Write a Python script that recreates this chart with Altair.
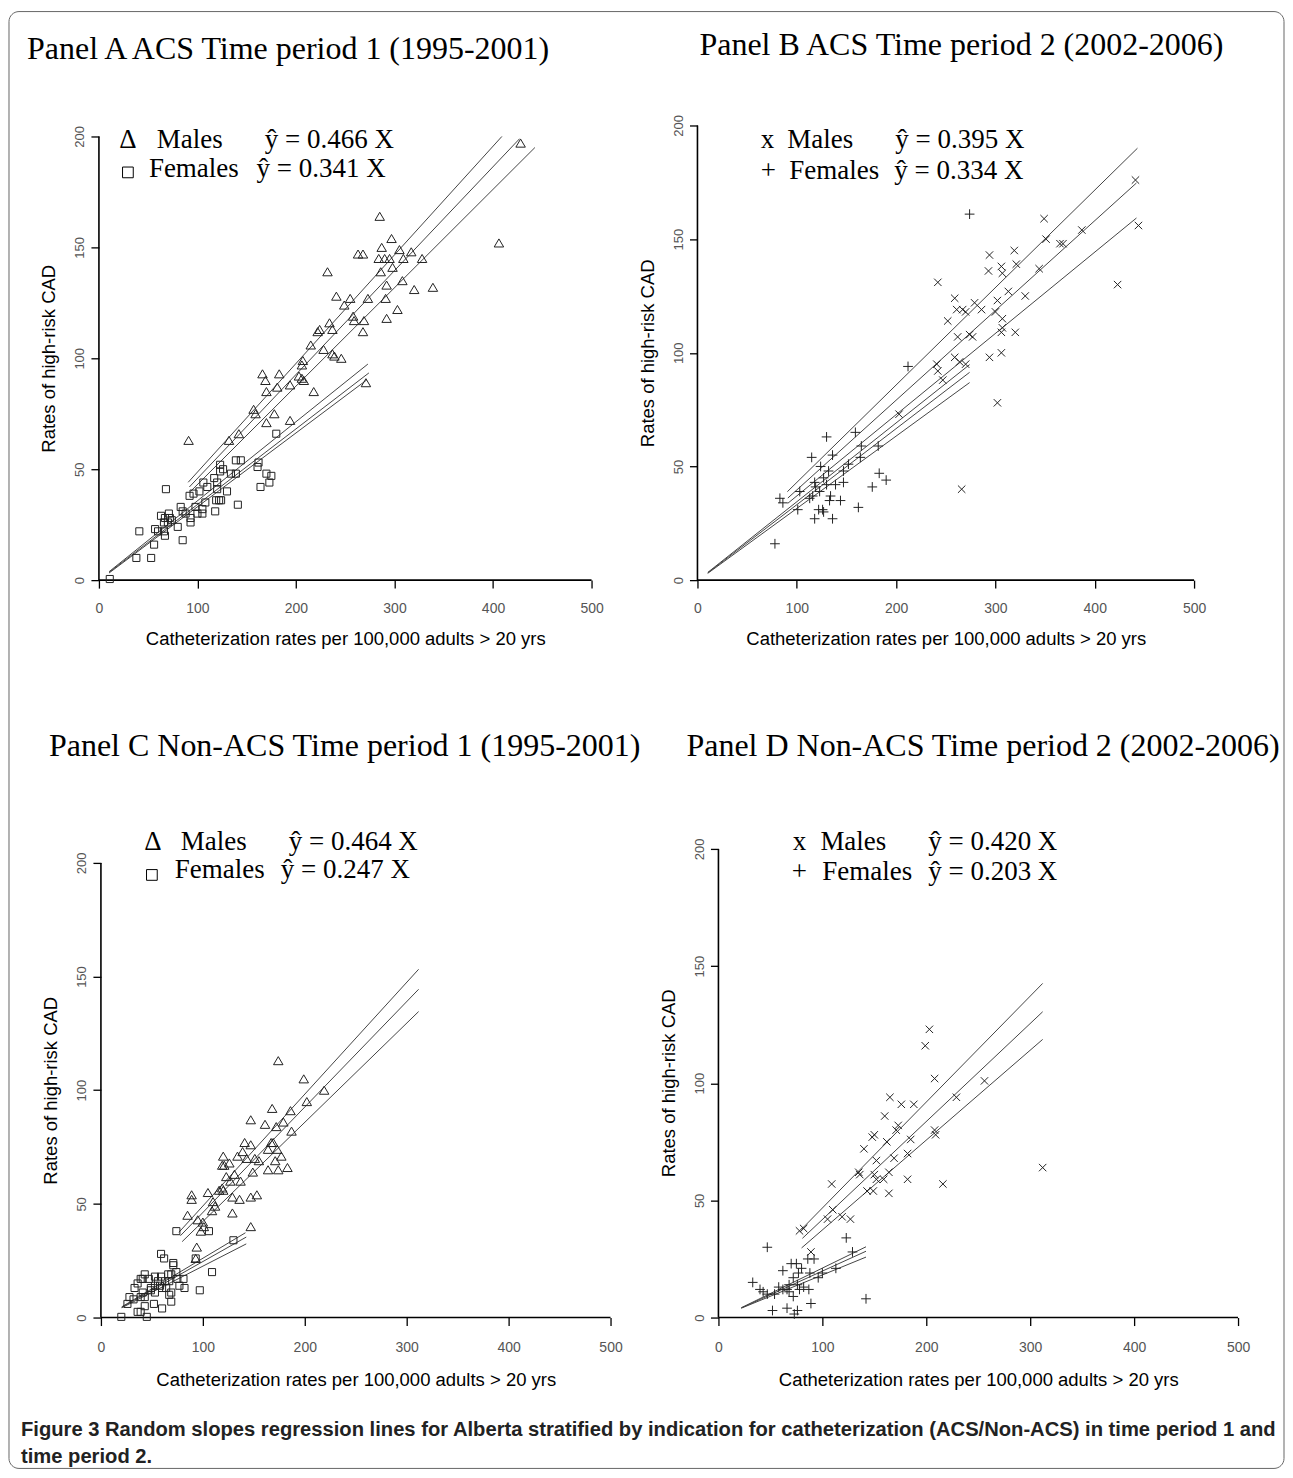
import altair as alt
import pandas as pd

# ---------------- shared axis text / ticks ----------------
X_TICKS = [0, 100, 200, 300, 400, 500]
Y_TICKS = [0, 50, 100, 150, 200]
X_TITLE = "Catheterization rates per 100,000 adults > 20 yrs"
Y_TITLE = "Rates of high-risk CAD"

# ---------------- Panel A : ACS, time period 1 ----------------
A_TITLE = "Panel A ACS Time period 1 (1995-2001)"
A_male_x = [428, 406, 285, 297, 287, 305, 317, 263, 268, 284, 290, 295, 309, 328, 298, 286, 232, 292, 308, 339,
            320, 255, 241, 273, 291, 249, 258, 259, 269, 292, 303, 234, 237, 222, 224, 268, 215, 228, 237, 239,
            246, 207, 206, 203, 206, 208, 218, 166, 183, 169, 170, 181, 194, 157, 159, 178, 170, 194, 142, 132,
            91, 271]
A_male_y = [197, 152, 164, 154, 150, 149, 148, 147, 147, 145, 145, 145, 145, 145, 141, 139, 139, 133, 135, 132,
            131, 127, 128, 127, 127, 124, 119, 117, 117, 118, 122, 116, 113, 112, 113, 112, 106, 104, 102, 101,
            100, 99, 97, 92, 91, 90, 85, 93, 93, 90, 85, 87, 88, 77, 75, 75, 71, 72, 66, 63,
            63, 89]
A_female_x = [180, 139, 144, 162, 161, 123, 126, 123, 134, 139, 170, 175, 173, 164, 106, 117, 120, 110, 120, 130,
              102, 92, 96, 122, 119, 124, 141, 68, 108, 98, 118, 105, 105, 83, 85, 100, 93, 93, 88, 71,
              63, 67, 72, 70, 66, 74, 80, 85, 67, 41, 57, 60, 56, 38, 53, 11, 66]
A_female_y = [66, 54, 54, 53, 51, 52, 50, 49, 48, 48, 48, 47, 44, 42, 44, 46, 44, 42, 41, 40,
              40, 38, 39, 36, 36, 36, 34, 41, 35, 33, 31, 30, 32, 33, 31, 30, 28, 26, 30, 30,
              29, 28, 28, 26, 26, 27, 24, 18, 20, 22, 23, 22, 16, 10, 10, 0.5, 22]
A_line_x1 = [90.6, 91.8, 93.0, 10.3, 10.3, 10.3]
A_line_y1 = [44.1, 42.0, 40.0, 3.8, 3.5, 3.2]
A_line_x2 = [409, 427, 442.5, 273, 274, 272]
A_line_y2 = [200, 199, 195, 97.4, 93.4, 90.3]
A_labels = ["Males", "Females"]
A_eqs = ["ŷ = 0.466 X", "ŷ = 0.341 X"]

# ---------------- Panel B : ACS, time period 2 ----------------
B_TITLE = "Panel B ACS Time period 2 (2002-2006)"
B_male_x = [441, 444, 423, 349, 351, 365, 368, 387, 344, 319, 321, 306, 307, 294, 293, 313, 330, 302, 300, 307,
            307, 306, 320, 306, 294, 302, 266, 242, 259, 252, 261, 267, 270, 279, 286, 274, 277, 262, 259, 264,
            241, 242, 247, 203, 270]
B_male_y = [176, 156, 130, 159, 150, 148, 148, 154, 137, 145, 139, 138, 135, 143, 136, 127, 125, 123, 118, 115,
            111, 109, 109, 100, 98, 78, 40, 131, 124, 114, 119, 119, 118, 122, 119, 108, 107, 107, 98, 96,
            95, 92, 88, 73, 95]
B_female_x = [274, 212, 159, 130, 165, 182, 136, 115, 164, 152, 124, 132, 147, 183, 190, 127, 147, 118, 139, 130,
              176, 119, 123, 103, 134, 116, 113, 83, 86, 144, 133, 101, 122, 127, 162, 118, 136, 78, 126]
B_female_y = [161, 94, 65, 63, 59, 59, 55, 54, 54, 51, 50, 48, 48, 47, 44, 45, 43, 43, 42, 42,
              41, 41, 39, 39, 37, 37, 36, 36, 34, 35, 35, 31, 31, 30, 32, 27, 27, 16, 31]
B_line_x1 = [90.5, 91.0, 91.0, 10.4, 10.4, 10.4]
B_line_y1 = [38.9, 36.1, 33.8, 3.4, 3.2, 3.0]
B_line_x2 = [443, 442, 442, 274, 274, 274]
B_line_y2 = [190, 174.7, 159.3, 94.8, 91.4, 86.9]
B_labels = ["Males", "Females"]
B_eqs = ["ŷ = 0.395 X", "ŷ = 0.334 X"]

# ---------------- Panel C : Non-ACS, time period 1 ----------------
C_TITLE = "Panel C Non-ACS Time period 1 (1995-2001)"
C_male_x = [174, 199, 219, 202, 168, 186, 179, 187, 147, 161, 172, 167, 169, 141, 147, 164, 173, 139, 177, 171,
            151, 155, 120, 134, 143, 126, 121, 119, 183, 174, 164, 149, 131, 123, 127, 137, 119, 116, 120, 105,
            89, 89, 129, 136, 147, 153, 110, 112, 109, 129, 85, 100, 101, 98, 147, 94, 93, 95]
C_male_y = [113, 105, 100, 95, 92, 91, 86, 82, 87, 85, 84, 77, 77, 77, 76, 74, 74, 73, 71, 69,
            70, 69, 71, 71, 70, 68, 67, 67, 66, 65, 65, 64, 63, 62, 60, 60, 57, 56, 56, 55,
            54, 52, 53, 52, 53, 54, 51, 49, 47, 46, 45, 42, 40, 38, 40, 31, 26, 43]
C_female_x = [74, 106, 130, 93, 109, 97, 59, 62, 71, 71, 74, 66, 43, 39, 41, 47, 53, 59, 69, 75,
              81, 36, 56, 63, 67, 82, 53, 49, 60, 64, 41, 49, 69, 53, 39, 43, 67, 28, 32, 26,
              43, 52, 60, 69, 36, 39, 20, 45, 33, 77, 58]
C_female_y = [38, 38, 34, 26, 20, 12, 28, 26, 24, 23, 20, 19, 19, 17, 17, 17, 18, 18, 19, 17,
              17, 15, 16, 16, 16, 13, 14, 13, 13, 13, 11, 12, 11, 11, 9, 9, 10, 9, 8, 6,
              5, 6, 4, 7, 2.5, 2.5, 0.3, 0.3, 13, 14, 14]
C_line_x1 = [76.5, 78.0, 79.7, 20.4, 20.4, 20.4]
C_line_y1 = [37.5, 36.0, 33.4, 4.7, 4.5, 4.3]
C_line_x2 = [311.7, 311.7, 311.7, 141.8, 142.6, 142.6]
C_line_y2 = [153.2, 144.4, 134.6, 37.3, 35.4, 32.4]
C_labels = ["Males", "Females"]
C_eqs = ["ŷ = 0.464 X", "ŷ = 0.247 X"]

# ---------------- Panel D : Non-ACS, time period 2 ----------------
D_TITLE = "Panel D Non-ACS Time period 2 (2002-2006)"
D_male_x = [203, 199, 208, 256, 229, 165, 176, 188, 160, 171, 173, 150, 148, 208, 209, 162, 185, 140, 169, 152,
            182, 164, 136, 135, 152, 159, 182, 312, 216, 109, 143, 149, 164, 110, 105, 119, 127, 82, 78, 89,
            150]
D_male_y = [123, 116, 102, 101, 94, 94, 91, 91, 86, 80, 82, 78, 77, 80, 78, 75, 76, 72, 68, 67,
            70, 62, 61, 62, 59, 59, 59, 64, 57, 57, 54, 54, 53, 46, 42, 43, 42, 38, 37, 28,
            61]
D_female_x = [47, 123, 129, 33, 40, 43, 47, 52, 66, 76, 142, 62, 70, 75, 72, 77, 80, 86, 92, 88,
              87, 89, 96, 100, 113, 68, 58, 62, 66, 54, 76, 78, 72, 82, 68, 73]
D_female_y = [30, 34, 28, 15, 12, 11, 10, 3, 4, 3, 8, 20, 23, 23, 17, 19, 21, 25, 25, 19,
              12, 6, 17, 19, 21, 14, 13, 12, 12, 10, 14, 12, 9, 13, 11, 1.5]
D_line_x1 = [80.0, 80.8, 80.0, 22, 22, 22]
D_line_y1 = [37.7, 33.8, 29.7, 4.2, 4.1, 4.0]
D_line_x2 = [312, 312, 312, 142, 142, 142]
D_line_y2 = [142.6, 130.5, 118.7, 30.2, 28.3, 25.8]
D_labels = ["Males", "Females"]
D_eqs = ["ŷ = 0.420 X", "ŷ = 0.203 X"]

CAPTION_1 = ("Figure 3 Random slopes regression lines for Alberta stratified by indication for "
             "catheterization (ACS/Non-ACS) in time period 1 and")
CAPTION_2 = "time period 2."

# ---------------- styling ----------------
SERIF = "Liberation Serif"
SANS = "Liberation Sans"
CAP_FONT = "Liberation Sans"
TRI = "M0,-0.85L1,0.85L-1,0.85Z"
SQR = "M-1,-1L1,-1L1,1L-1,1Z"
XMK = "M-1,-1L1,1M-1,1L1,-1"
PLS = "M-1,0L1,0M0,-1L0,1"
INK = "#222222"
LINE = "#444444"
LEG_SIZE = 27
TITLE_SIZE = 32

one = pd.DataFrame({"k": [0]})


def panel(cfg, mx, my, fx, fy, lx1, ly1, lx2, ly2, labels, eqs, title, extra=()):
    xs = alt.Scale(domain=cfg["xdom"], nice=False, zero=False)
    ys = alt.Scale(domain=cfg["ydom"], nice=False, zero=False)
    xa = alt.Axis(values=X_TICKS, domain=False, grid=False, tickSize=8, tickColor="black", tickWidth=1.3,
                  labelFont=SANS, labelFontSize=14, labelColor="#555555", labelPadding=cfg["lpad"],
                  labelFlush=False, title=X_TITLE, titleFont=SANS, titleFontSize=18.5,
                  titleFontWeight="normal", titleColor="black", titlePadding=cfg["tpad"], titleX=cfg["tx"])
    ya = alt.Axis(values=Y_TICKS, domain=False, grid=False, tickSize=8, tickColor="black", tickWidth=1.3,
                  labelAngle=270, labelAlign="center", labelBaseline="bottom", labelFont=SANS,
                  labelFontSize=13, labelColor="#555555", labelPadding=4, title=Y_TITLE, titleFont=SANS,
                  titleFontSize=18.5, titleFontWeight="normal", titleColor="black", titlePadding=15,
                  titleY=cfg["ty"], offset=cfg["yoff"])

    def X(f):
        return alt.X(f, type="quantitative", scale=xs, axis=xa)

    def Y(f):
        return alt.Y(f, type="quantitative", scale=ys, axis=ya)

    axis_df = pd.DataFrame({"x1": [0, 0], "y1": [0, 0], "x2": [X_TICKS[-1], 0], "y2": [0, Y_TICKS[-1]]})
    axes = alt.Chart(axis_df).mark_rule(color="black", strokeWidth=1.6).encode(
        x=X("x1"), y=Y("y1"), x2=alt.X2("x2"), y2=alt.Y2("y2"))

    line_df = pd.DataFrame({"x1": lx1, "y1": ly1, "x2": lx2, "y2": ly2})
    lines = alt.Chart(line_df).mark_rule(color=LINE, strokeWidth=1).encode(
        x=X("x1"), y=Y("y1"), x2=alt.X2("x2"), y2=alt.Y2("y2"))

    males = alt.Chart(pd.DataFrame({"x": mx, "y": my})).mark_point(
        shape=cfg["mshape"], filled=False, size=cfg["msize"], strokeWidth=1, color=INK, opacity=1).encode(
        x=X("x"), y=Y("y"))
    females = alt.Chart(pd.DataFrame({"x": fx, "y": fy})).mark_point(
        shape=cfg["fshape"], filled=False, size=cfg["fsize"], strokeWidth=1, color=INK, opacity=1).encode(
        x=X("x"), y=Y("y"))

    lab_df = pd.DataFrame({"x": cfg["lab_x"] + cfg["eq_x"], "y": cfg["lab_y"] + cfg["lab_y"],
                           "t": labels + eqs})
    leg_text = alt.Chart(lab_df).mark_text(font=SERIF, fontSize=LEG_SIZE, align="left", baseline="middle",
                                           color="black").encode(x=X("x"), y=Y("y"), text="t:N")

    layers = [axes, lines, males, females, leg_text]

    # legend symbols
    sym = cfg["sym"]
    tsym = [(sx, sy, s) for (sx, sy, s) in zip(cfg["sym_x"], cfg["sym_y"], sym) if s != "square"]
    if tsym:
        sdf = pd.DataFrame({"x": [t[0] for t in tsym], "y": [t[1] for t in tsym], "t": [t[2] for t in tsym]})
        layers.append(alt.Chart(sdf).mark_text(font=SERIF, fontSize=LEG_SIZE, align="center", baseline="middle",
                                               color="black").encode(x=X("x"), y=Y("y"), text="t:N"))
    psym = [(sx, sy) for (sx, sy, s) in zip(cfg["sym_x"], cfg["sym_y"], sym) if s == "square"]
    if psym:
        pdf = pd.DataFrame({"x": [p[0] for p in psym], "y": [p[1] for p in psym]})
        layers.append(alt.Chart(pdf).mark_point(shape=SQR, filled=False, size=115, strokeWidth=1,
                                                color="black", opacity=1).encode(x=X("x"), y=Y("y")))

    # panel heading
    layers.append(alt.Chart(one).mark_text(text=title, font=SERIF, fontSize=TITLE_SIZE, align="left",
                                           baseline="middle", color="black").encode(
        x=alt.value(cfg["title_xy"][0]), y=alt.value(cfg["title_xy"][1])))
    layers.extend(extra)
    return alt.layer(*layers).properties(width=cfg["w"], height=cfg["h"])


cfgA = dict(w=512, h=455, xdom=[0, 519.27], ydom=[0, 204.95], yoff=0, tx=246.5, ty=233, lpad=13, tpad=14,
            mshape=TRI, msize=90, fshape=SQR, fsize=50, sym=["Δ", "square"],
            sym_x=[29.4, 29.4], sym_y=[198.6, 183.8], lab_x=[58.8, 50.7], lab_y=[198.6, 185.5],
            eq_x=[168.4, 160.0], title_xy=(-72, -77))
cfgB = dict(w=541, h=455, xdom=[0, 544.27], ydom=[0, 200], yoff=0, tx=248.5, ty=227.5, lpad=13, tpad=14,
            mshape=XMK, msize=55, fshape=PLS, fsize=95, sym=["x", "+"],
            sym_x=[70.4, 71.4], sym_y=[193.4, 179.8], lab_x=[90.5, 92.5], lab_y=[193.4, 179.8],
            eq_x=[199.2, 198.2], title_xy=(2, -81))
cfgC = dict(w=512, h=469, xdom=[-1.96, 500], ydom=[0, 206.15], yoff=-2, tx=257, ty=241.5, lpad=15, tpad=16,
            mshape=TRI, msize=90, fshape=SQR, fsize=50, sym=["Δ", "square"],
            sym_x=[51, 50], sym_y=[209.2, 194.7], lab_x=[78.4, 72.5], lab_y=[209.2, 196.9],
            eq_x=[184.3, 176.5], title_xy=(-50, -103))
cfgD = dict(w=541, h=469, xdom=[-20.19, 500], ydom=[0, 200], yoff=-21, tx=281, ty=234, lpad=15, tpad=16,
            mshape=XMK, msize=55, fshape=PLS, fsize=95, sym=["x", "+"],
            sym_x=[77.9, 77.9], sym_y=[203, 190.2], lab_x=[98.1, 100], lab_y=[203, 190.2],
            eq_x=[201.9, 201.9], title_xy=(-11, -103))

# outer frame of the figure (kept inside the 1293 px page: svg width = 1277)
border = alt.Chart(one).mark_rect(fillOpacity=0, stroke="#666666", strokeWidth=1, cornerRadius=10).encode(
    x=alt.value(-90), x2=alt.value(1186), y=alt.value(-114), y2=alt.value(1344))

cap1 = alt.Chart(one).mark_text(text=CAPTION_1, font=CAP_FONT, fontSize=20.2, fontWeight="bold", align="left",
                                baseline="middle", color="#222222").encode(x=alt.value(-78), y=alt.value(582))
cap2 = alt.Chart(one).mark_text(text=CAPTION_2, font=CAP_FONT, fontSize=20.2, fontWeight="bold", align="left",
                                baseline="middle", color="#222222").encode(x=alt.value(-78), y=alt.value(609))

pA = panel(cfgA, A_male_x, A_male_y, A_female_x, A_female_y, A_line_x1, A_line_y1, A_line_x2, A_line_y2,
           A_labels, A_eqs, A_TITLE, extra=[border])
pB = panel(cfgB, B_male_x, B_male_y, B_female_x, B_female_y, B_line_x1, B_line_y1, B_line_x2, B_line_y2,
           B_labels, B_eqs, B_TITLE)
pC = panel(cfgC, C_male_x, C_male_y, C_female_x, C_female_y, C_line_x1, C_line_y1, C_line_x2, C_line_y2,
           C_labels, C_eqs, C_TITLE, extra=[cap1, cap2])
pD = panel(cfgD, D_male_x, D_male_y, D_female_x, D_female_y, D_line_x1, D_line_y1, D_line_x2, D_line_y2,
           D_labels, D_eqs, D_TITLE)

chart = alt.concat(pA, pB, pC, pD, columns=2, spacing={"row": 269, "column": 87}).properties(
    bounds="flush", align="each",
    padding={"left": 0, "top": 2, "right": 0, "bottom": 0}, background="white"
).configure_view(stroke="transparent")

chart.save("out.html", embed_options={"renderer": "svg", "actions": False})
